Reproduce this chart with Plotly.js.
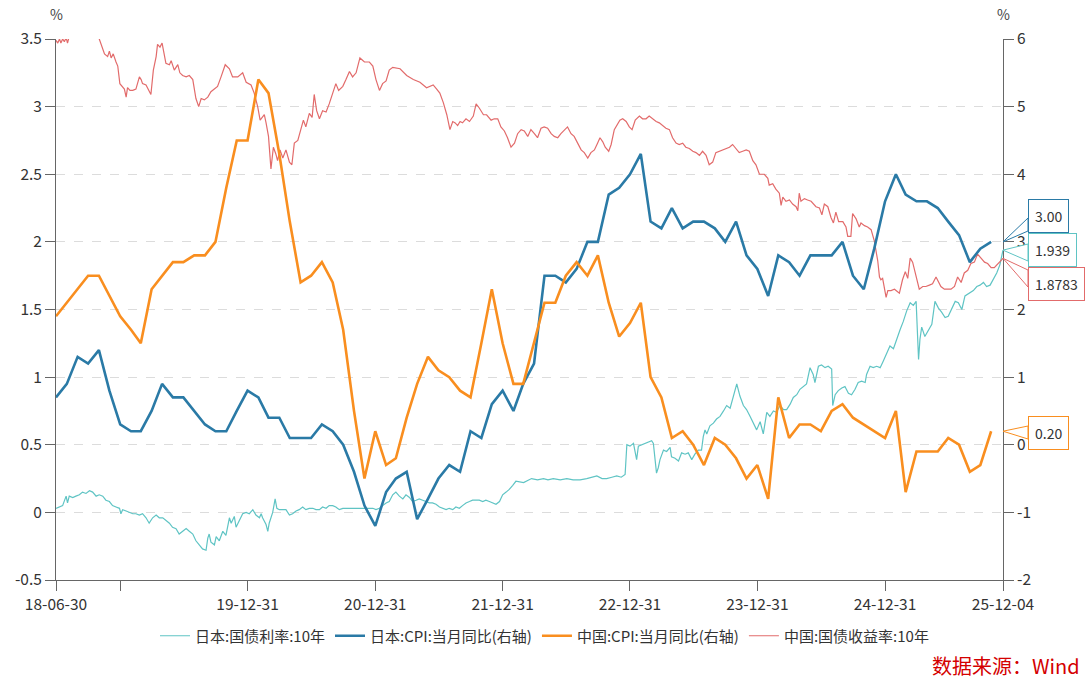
<!DOCTYPE html>
<html><head><meta charset="utf-8">
<script src="https://cdn.plot.ly/plotly-3.0.1.min.js"></script>
<style>html,body{margin:0;padding:0;background:#fff;} #chart{width:1089px;height:679px;}</style>
</head><body><div id="chart"></div>
<script>
// ---------- data ----------
const seriesNames = ['日本:国债利率:10年','日本:CPI:当月同比(右轴)','中国:CPI:当月同比(右轴)','中国:国债收益率:10年'];
const startDate = '2018-06-30';
const endDate = '2025-12-04';
// monthly CPI YoY (%), month-end from 2018-06 to 2025-10
const cpiFirstMonth = [2018, 6];
const jpCpi = [0.7,0.9,1.3,1.2,1.4,0.8,0.3,
  0.2,0.2,0.5,0.9,0.7,0.7,0.5,0.3,0.2,0.2,0.5,0.8,
  0.7,0.4,0.4,0.1,0.1,0.1,0.3,0.2,0.0,-0.4,-0.9,-1.2,
  -0.7,-0.5,-0.4,-1.1,-0.8,-0.5,-0.3,-0.4,0.2,0.1,0.6,0.8,
  0.5,0.9,1.2,2.5,2.5,2.4,2.6,3.0,3.0,3.7,3.8,4.0,
  4.3,3.3,3.2,3.5,3.2,3.3,3.3,3.2,3.0,3.3,2.8,2.6,
  2.2,2.8,2.7,2.5,2.8,2.8,2.8,3.0,2.5,2.3,2.9,3.6,
  4.0,3.7,3.6,3.6,3.5,3.3,3.1,2.7,2.9,3.0];
const cnCpi = [1.9,2.1,2.3,2.5,2.5,2.2,1.9,
  1.7,1.5,2.3,2.5,2.7,2.7,2.8,2.8,3.0,3.8,4.5,4.5,
  5.4,5.2,4.3,3.3,2.4,2.5,2.7,2.4,1.7,0.5,-0.5,0.2,
  -0.3,-0.2,0.4,0.9,1.3,1.1,1.0,0.8,0.7,1.5,2.3,1.5,
  0.9,0.9,1.5,2.1,2.1,2.5,2.7,2.5,2.8,2.1,1.6,1.8,
  2.1,1.0,0.7,0.1,0.2,0.0,-0.3,0.1,0.0,-0.2,-0.5,-0.3,
  -0.8,0.7,0.1,0.3,0.3,0.2,0.5,0.6,0.4,0.3,0.2,0.1,
  0.5,-0.7,-0.1,-0.1,-0.1,0.1,0.0,-0.4,-0.3,0.2];
// 10Y yields (%): [days after 2018-06-30, value]
const cnYield10y = [[0,3.49],[5,3.47],[10,3.50],[14,3.47],[19,3.50],[24,3.48],[29,3.51],[33,3.47],[38,3.52],[48,3.56],
[60,3.60],[75,3.62],[90,3.58],[105,3.55],[115,3.53],[124,3.50],[139,3.39],[148,3.37],[153,3.41],[158,3.36],
[164,3.39],[172,3.33],[177,3.30],[183,3.17],[189,3.15],[196,3.13],[201,3.07],[205,3.14],[212,3.12],[220,3.12],
[229,3.13],[239,3.22],[244,3.20],[248,3.17],[258,3.16],[267,3.11],[272,3.09],[279,3.27],[287,3.37],[291,3.46],
[298,3.44],[304,3.47],[308,3.42],[315,3.32],[325,3.31],[330,3.34],[339,3.27],[349,3.31],[355,3.25],[363,3.23],
[373,3.22],[382,3.23],[392,3.20],[401,3.06],[409,3.00],[416,3.06],[425,3.05],[435,3.07],[444,3.11],[454,3.13],
[463,3.15],[473,3.22],[485,3.31],[497,3.28],[506,3.22],[521,3.22],[535,3.25],[545,3.18],[559,3.16],[568,3.10],
[578,3.00],[585,2.90],[592,2.92],[597,2.94],[602,2.88],[609,2.78],[616,2.54],[623,2.70],[630,2.65],[635,2.60],
[642,2.68],[650,2.62],[659,2.68],[669,2.59],[676,2.57],[683,2.73],[693,2.75],[702,2.83],[709,2.90],[716,2.85],
[726,2.95],[734,2.92],[740,3.09],[747,2.97],[755,2.91],[764,2.97],[774,2.96],[783,3.02],[793,3.10],[802,3.17],
[810,3.12],[822,3.15],[831,3.20],[841,3.26],[850,3.22],[860,3.25],[871,3.36],[884,3.33],[898,3.33],[908,3.30],
[917,3.20],[927,3.12],[936,3.17],[946,3.19],[955,3.27],[965,3.29],[986,3.28],[1005,3.23],[1024,3.20],[1043,3.18],
[1062,3.14],[1081,3.16],[1091,3.13],[1100,3.10],[1110,3.03],[1120,2.94],[1129,2.83],[1137,2.89],[1144,2.88],[1151,2.86],
[1158,2.89],[1165,2.88],[1175,2.91],[1185,2.89],[1196,2.93],[1204,3.02],[1213,2.99],[1225,2.94],[1234,2.94],[1247,2.90],
[1256,2.91],[1266,2.91],[1275,2.85],[1285,2.82],[1294,2.77],[1304,2.70],[1314,2.73],[1323,2.80],[1333,2.83],[1342,2.82],
[1352,2.78],[1361,2.83],[1371,2.80],[1380,2.77],[1390,2.84],[1399,2.85],[1409,2.84],[1419,2.80],[1428,2.78],[1438,2.77],
[1447,2.80],[1457,2.83],[1466,2.85],[1476,2.80],[1485,2.78],[1495,2.73],[1505,2.68],[1514,2.66],[1524,2.62],[1533,2.66],
[1543,2.68],[1552,2.73],[1559,2.77],[1567,2.74],[1574,2.70],[1584,2.67],[1591,2.72],[1600,2.83],[1610,2.88],[1616,2.90],
[1624,2.91],[1634,2.89],[1643,2.85],[1651,2.83],[1660,2.90],[1672,2.93],[1681,2.91],[1691,2.91],[1700,2.93],[1710,2.91],
[1720,2.89],[1729,2.88],[1739,2.86],[1748,2.84],[1758,2.83],[1767,2.77],[1777,2.73],[1786,2.72],[1796,2.73],[1805,2.70],
[1815,2.69],[1825,2.67],[1834,2.66],[1844,2.64],[1853,2.67],[1863,2.64],[1872,2.57],[1882,2.59],[1891,2.66],[1901,2.67],
[1911,2.68],[1920,2.69],[1930,2.70],[1939,2.72],[1949,2.69],[1958,2.66],[1968,2.67],[1978,2.68],[1987,2.67],[1997,2.60],
[2006,2.57],[2016,2.50],[2030,2.50],[2040,2.47],[2044,2.42],[2054,2.43],[2063,2.39],[2073,2.36],[2078,2.27],[2083,2.33],
[2092,2.30],[2102,2.31],[2111,2.28],[2121,2.26],[2126,2.23],[2130,2.36],[2135,2.30],[2145,2.32],[2154,2.31],[2164,2.30],
[2178,2.26],[2188,2.25],[2195,2.20],[2202,2.28],[2212,2.26],[2221,2.18],[2228,2.14],[2235,2.22],[2243,2.15],[2255,2.15],
[2264,2.11],[2269,2.04],[2278,2.04],[2283,2.21],[2293,2.17],[2302,2.11],[2307,2.14],[2317,2.12],[2326,2.11],[2336,2.09],
[2345,2.01],[2355,1.86],[2360,1.74],[2364,1.72],[2369,1.73],[2374,1.67],[2379,1.59],[2384,1.64],[2393,1.64],[2403,1.65],
[2417,1.62],[2426,1.72],[2434,1.78],[2441,1.73],[2448,1.88],[2455,1.85],[2465,1.74],[2474,1.65],[2484,1.67],[2493,1.67],
[2503,1.68],[2512,1.69],[2522,1.74],[2530,1.70],[2536,1.67],[2546,1.65],[2555,1.65],[2565,1.65],[2575,1.67],[2584,1.74],
[2594,1.70],[2603,1.77],[2613,1.79],[2622,1.84],[2632,1.85],[2641,1.91],[2651,1.88],[2661,1.85],[2670,1.84],[2680,1.81],
[2689,1.81],[2699,1.84],[2708,1.86],[2714,1.8783]];
const jpYield10y = [[0,0.03],[10,0.04],[19,0.05],[29,0.12],[33,0.07],[38,0.12],[48,0.11],[57,0.12],[67,0.13],[76,0.15],
[86,0.14],[96,0.16],[105,0.15],[115,0.12],[124,0.13],[134,0.12],[143,0.09],[153,0.08],[162,0.05],[172,0.04],
[182,0.03],[186,-0.01],[191,0.02],[201,0.01],[210,0.00],[220,-0.01],[229,-0.01],[239,-0.02],[248,-0.01],[258,-0.04],
[267,-0.08],[277,-0.04],[287,-0.02],[296,-0.04],[306,-0.04],[315,-0.06],[325,-0.08],[334,-0.11],[344,-0.12],[353,-0.16],
[363,-0.14],[373,-0.12],[382,-0.14],[392,-0.16],[401,-0.21],[411,-0.24],[420,-0.27],[430,-0.28],[435,-0.19],[439,-0.16],
[444,-0.22],[454,-0.24],[459,-0.18],[468,-0.21],[478,-0.14],[487,-0.17],[492,-0.09],[497,-0.04],[502,-0.08],[511,-0.03],
[516,-0.11],[525,-0.06],[535,-0.01],[545,0.00],[554,-0.01],[564,0.02],[573,-0.02],[583,-0.04],[588,-0.01],[592,-0.04],
[602,-0.09],[607,-0.14],[611,-0.08],[621,0.00],[628,0.10],[633,0.03],[640,0.02],[650,0.02],[659,0.02],[669,-0.02],
[678,-0.01],[688,0.01],[697,0.02],[707,0.04],[716,0.02],[726,0.03],[736,0.03],[745,0.02],[755,0.02],[764,0.04],
[774,0.03],[783,0.05],[793,0.05],[802,0.04],[812,0.02],[822,0.03],[831,0.03],[841,0.03],[850,0.03],[860,0.03],
[869,0.03],[879,0.03],[888,0.03],[898,0.03],[908,0.03],[917,0.02],[927,0.03],[936,0.05],[946,0.07],[955,0.08],
[965,0.13],[974,0.15],[984,0.12],[994,0.10],[1003,0.13],[1013,0.11],[1022,0.08],[1032,0.09],[1041,0.10],[1051,0.09],
[1060,0.08],[1070,0.07],[1079,0.07],[1089,0.06],[1099,0.04],[1108,0.03],[1118,0.02],[1127,0.03],[1137,0.02],[1146,0.04],
[1156,0.03],[1165,0.05],[1175,0.07],[1185,0.08],[1194,0.09],[1204,0.09],[1213,0.09],[1223,0.08],[1232,0.09],[1242,0.08],
[1251,0.07],[1261,0.06],[1271,0.08],[1280,0.13],[1290,0.15],[1299,0.17],[1309,0.20],[1318,0.23],[1340,0.22],[1363,0.25],
[1380,0.24],[1397,0.25],[1410,0.24],[1425,0.25],[1445,0.24],[1464,0.25],[1482,0.24],[1502,0.24],[1521,0.25],[1535,0.26],
[1550,0.27],[1565,0.25],[1578,0.25],[1593,0.26],[1607,0.27],[1620,0.26],[1631,0.28],[1636,0.50],[1645,0.49],[1655,0.51],
[1664,0.39],[1669,0.49],[1678,0.50],[1693,0.52],[1707,0.53],[1712,0.51],[1717,0.39],[1721,0.29],[1726,0.33],[1731,0.39],
[1741,0.46],[1750,0.45],[1760,0.48],[1764,0.41],[1774,0.40],[1784,0.38],[1793,0.44],[1803,0.43],[1812,0.44],[1822,0.39],
[1831,0.43],[1841,0.46],[1850,0.46],[1855,0.56],[1860,0.61],[1865,0.58],[1874,0.64],[1884,0.66],[1893,0.69],[1903,0.71],
[1913,0.75],[1922,0.79],[1932,0.77],[1941,0.86],[1951,0.95],[1956,0.90],[1960,0.86],[1970,0.79],[1979,0.76],[1989,0.71],
[1999,0.66],[2008,0.61],[2018,0.67],[2027,0.58],[2037,0.74],[2046,0.71],[2056,0.75],[2065,0.74],[2075,0.79],[2085,0.76],
[2094,0.76],[2104,0.80],[2113,0.85],[2123,0.87],[2132,0.91],[2142,0.93],[2151,0.95],[2161,1.07],[2170,1.02],[2175,0.96],
[2185,1.08],[2194,1.09],[2204,1.07],[2213,1.08],[2223,1.06],[2226,0.79],[2233,0.87],[2242,0.90],[2252,0.92],[2261,0.93],
[2271,0.88],[2280,0.87],[2290,0.91],[2299,0.96],[2309,0.97],[2319,0.96],[2323,1.02],[2333,1.08],[2342,1.07],[2352,1.08],
[2362,1.07],[2371,1.12],[2381,1.18],[2390,1.23],[2400,1.21],[2409,1.28],[2419,1.35],[2428,1.41],[2438,1.49],[2448,1.55],
[2457,1.53],[2465,1.56],[2469,1.33],[2472,1.13],[2476,1.28],[2481,1.37],[2490,1.30],[2500,1.34],[2510,1.39],[2519,1.56],
[2529,1.51],[2538,1.48],[2548,1.44],[2557,1.45],[2567,1.50],[2577,1.56],[2586,1.55],[2596,1.50],[2605,1.60],[2619,1.62],
[2629,1.64],[2639,1.67],[2648,1.68],[2658,1.70],[2667,1.67],[2677,1.68],[2686,1.72],[2696,1.77],[2705,1.83],[2714,1.939]];
// axis ticks
const xTickVals = ['2018-06-30','2018-12-31','2019-12-31','2020-12-31','2021-12-31','2022-12-31','2023-12-31','2024-12-31','2025-12-04'];
const xTickText = ['18-06-30','','19-12-31','20-12-31','21-12-31','22-12-31','23-12-31','24-12-31','25-12-04'];
const leftTickVals = [-0.5,0,0.5,1,1.5,2,2.5,3,3.5];
const leftTickText = ['-0.5','0','0.5','1','1.5','2','2.5','3','3.5'];
const rightTickVals = [-2,-1,0,1,2,3,4,5,6];
const rightTickText = ['-2','-1','0','1','2','3','4','5','6'];
const leftRange = [-0.5, 3.5];
const rightRange = [-2, 6];

// ---------- helpers ----------
const base = Date.UTC(2018, 5, 30);
function dayDate(d) { return new Date(base + d * 86400000).toISOString().slice(0, 10); }
function monthEnd(i) { return new Date(Date.UTC(cpiFirstMonth[0], cpiFirstMonth[1] + i, 0)).toISOString().slice(0, 10); }
const cpiDates = jpCpi.map((_, i) => monthEnd(i));

const colors = { jpY: '#5fc4c4', jpC: '#2a7aa6', cnC: '#f98e1f', cnY: '#e26b6b' };
const FONT = '"Noto Sans CJK SC", "Microsoft YaHei", "Noto Sans", sans-serif';

const traces = [
  { name: seriesNames[0], x: jpYield10y.map(p => dayDate(p[0])), y: jpYield10y.map(p => p[1]), yaxis: 'y',
    mode: 'lines', line: { color: colors.jpY, width: 1.2 }, legendrank: 1 },
  { name: seriesNames[3], x: cnYield10y.map(p => dayDate(p[0])), y: cnYield10y.map(p => p[1]), yaxis: 'y',
    mode: 'lines', line: { color: colors.cnY, width: 1.2 }, legendrank: 4 },
  { name: seriesNames[1], x: cpiDates, y: jpCpi, yaxis: 'y2',
    mode: 'lines', line: { color: colors.jpC, width: 2.6 }, legendrank: 2 },
  { name: seriesNames[2], x: cpiDates, y: cnCpi, yaxis: 'y2',
    mode: 'lines', line: { color: colors.cnC, width: 2.6 }, legendrank: 3 }
];

// ---------- end-value callouts ----------
const plotTop = 39, plotBottom = 580;
const pyPaper = px => (plotBottom - px) / (plotBottom - plotTop);
const frac = (v, r) => (v - r[0]) / (r[1] - r[0]);
const boxX = (1028 - 56) / (1003 - 56);
const callouts = [
  { text: jpCpi[jpCpi.length - 1].toFixed(2), color: colors.jpC, tip: frac(jpCpi[jpCpi.length - 1], rightRange), center: 216, base: [218, 231] },
  { text: String(jpYield10y[jpYield10y.length - 1][1]), color: colors.jpY, tip: frac(jpYield10y[jpYield10y.length - 1][1], leftRange), center: 250.5, base: [244, 261] },
  { text: String(cnYield10y[cnYield10y.length - 1][1]), color: colors.cnY, tip: frac(cnYield10y[cnYield10y.length - 1][1], leftRange), center: 284, base: [270, 287] },
  { text: cnCpi[cnCpi.length - 1].toFixed(2), color: colors.cnC, tip: frac(cnCpi[cnCpi.length - 1], rightRange), center: 432.5, base: [426, 439] }
];
const shapes = callouts.map(c => ({
  type: 'path', xref: 'paper', yref: 'paper', layer: 'above',
  path: `M 1.0 ${c.tip} L ${boxX} ${pyPaper(c.base[0])} L ${boxX} ${pyPaper(c.base[1])} Z`,
  fillcolor: '#ffffff', line: { color: c.color, width: 1 }
}));
const annotations = callouts.map(c => ({
  xref: 'paper', yref: 'paper', x: boxX, y: pyPaper(c.center), xanchor: 'left', yanchor: 'middle',
  text: c.text, showarrow: false, bgcolor: '#ffffff', bordercolor: c.color, borderwidth: 1, borderpad: 6,
  font: { family: FONT, size: 14, color: '#333' }
}));
annotations.push(
  { xref: 'paper', yref: 'paper', x: 0, y: pyPaper(14), text: '%', showarrow: false, xanchor: 'center', yanchor: 'middle', font: { family: FONT, size: 14, color: '#444' } },
  { xref: 'paper', yref: 'paper', x: 1, y: pyPaper(14), text: '%', showarrow: false, xanchor: 'center', yanchor: 'middle', font: { family: FONT, size: 14, color: '#444' } },
  { xref: 'paper', yref: 'paper', x: (930 - 56) / 947, y: pyPaper(665), text: '数据来源：Wind', showarrow: false, xanchor: 'left', yanchor: 'middle', font: { family: FONT, size: 20, color: '#d40000' } }
);

const axisCommon = {
  ticks: 'outside', ticklen: 10, tickcolor: '#666', tickwidth: 1,
  showline: true, linecolor: '#666', linewidth: 1, zeroline: false,
  tickfont: { family: FONT, size: 15.5, color: '#333' }, fixedrange: true
};

const layout = {
  width: 1089, height: 679,
  margin: { l: 56, r: 86, t: 39, b: 99 },
  paper_bgcolor: '#fff', plot_bgcolor: '#fff',
  font: { family: FONT, size: 13, color: '#333' },
  showlegend: true,
  legend: { orientation: 'h', xref: 'container', yref: 'container', x: 0.5, xanchor: 'center', y: 1 - 636 / 679, yanchor: 'middle',
            font: { family: FONT, size: 15, color: '#333' }, itemwidth: 30, traceorder: 'normal' },
  xaxis: Object.assign({}, axisCommon, { type: 'date', range: [startDate, endDate], tickmode: 'array', tickvals: xTickVals, ticktext: xTickText, showgrid: false }),
  yaxis: Object.assign({}, axisCommon, { range: leftRange, tickmode: 'array', tickvals: leftTickVals, ticktext: leftTickText,
            showgrid: true, gridcolor: '#dcdcdc', griddash: 'dash', gridwidth: 1 }),
  yaxis2: Object.assign({}, axisCommon, { overlaying: 'y', side: 'right', range: rightRange, tickmode: 'array', tickvals: rightTickVals, ticktext: rightTickText, showgrid: false }),
  shapes: shapes,
  annotations: annotations,
  hovermode: false
};

Plotly.newPlot('chart', traces, layout, { displayModeBar: false, staticPlot: true });
</script>
</body></html>
